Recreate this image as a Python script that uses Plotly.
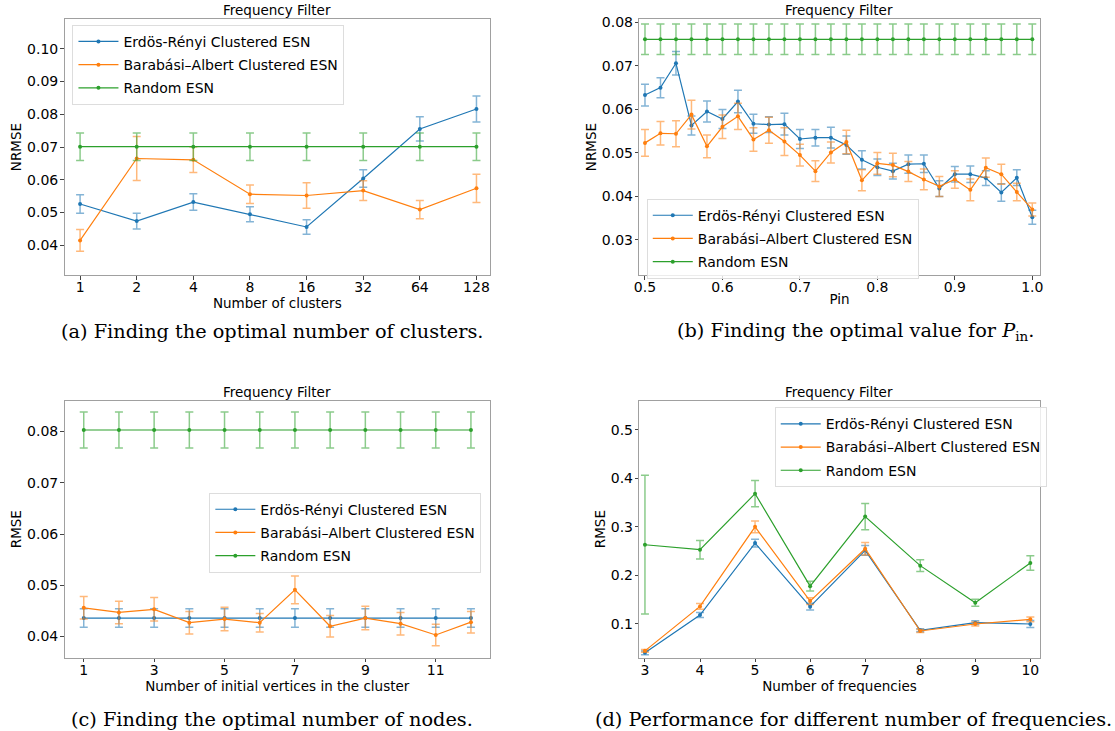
import plotly.graph_objects as go

# ---------------- data ----------------
names = ["Erdös-Rényi Clustered ESN", "Barabási–Albert Clustered ESN", "Random ESN"]
colors = ["#1f77b4", "#ff7f0e", "#2ca02c"]
err_colors = ["rgba(31,119,180,0.55)", "rgba(255,127,14,0.55)", "rgba(44,160,44,0.55)"]

# (a) number of clusters
a_labels = ["1", "2", "4", "8", "16", "32", "64", "128"]
a_er = [0.0526, 0.0474, 0.0532, 0.0495, 0.0456, 0.0604, 0.0755, 0.0816]
a_er_err = [0.0028, 0.0024, 0.0025, 0.0023, 0.0022, 0.0027, 0.0037, 0.0040]
a_ba = [0.0415, 0.0665, 0.0661, 0.0556, 0.0552, 0.0567, 0.0509, 0.0574]
a_ba_err = [0.0033, 0.0067, 0.0039, 0.0028, 0.0039, 0.0030, 0.0028, 0.0043]
a_rnd = [0.0701] * 8
a_rnd_err = [0.0042] * 8

# (b) Pin
b_x = [0.50, 0.52, 0.54, 0.56, 0.58, 0.60, 0.62, 0.64, 0.66, 0.68, 0.70, 0.72, 0.74,
       0.76, 0.78, 0.80, 0.82, 0.84, 0.86, 0.88, 0.90, 0.92, 0.94, 0.96, 0.98, 1.00]
b_er = [0.0633, 0.0650, 0.0706, 0.0563, 0.0595, 0.0578, 0.0618, 0.0567, 0.0565, 0.0566,
        0.0532, 0.0535, 0.0535, 0.0518, 0.0484, 0.0467, 0.0458, 0.0474, 0.0475, 0.0418,
        0.0451, 0.0451, 0.0442, 0.0409, 0.0443, 0.0352]
b_er_err = [0.0025, 0.0023, 0.0027, 0.0022, 0.0024, 0.0022, 0.0026, 0.0022, 0.0018, 0.0025,
            0.0022, 0.0019, 0.0024, 0.0021, 0.0021, 0.0019, 0.0018, 0.0021, 0.0020, 0.0018,
            0.0018, 0.0019, 0.0017, 0.0020, 0.0018, 0.0016]
b_ba = [0.0523, 0.0545, 0.0544, 0.0588, 0.0515, 0.0560, 0.0584, 0.0531, 0.0552, 0.0526,
        0.0495, 0.0458, 0.0501, 0.0525, 0.0437, 0.0476, 0.0472, 0.0457, 0.0439, 0.0423,
        0.0439, 0.0415, 0.0466, 0.0451, 0.0410, 0.0370]
b_ba_err = [0.0031, 0.0027, 0.0030, 0.0033, 0.0026, 0.0027, 0.0030, 0.0027, 0.0030, 0.0032,
            0.0025, 0.0024, 0.0024, 0.0027, 0.0024, 0.0025, 0.0027, 0.0023, 0.0024, 0.0023,
            0.0020, 0.0025, 0.0022, 0.0023, 0.0020, 0.0015]
b_rnd = [0.0761] * 26
b_rnd_err = [0.0035] * 26

# (c) number of initial vertices
c_x = [1, 2, 3, 4, 5, 6, 7, 8, 9, 10, 11, 12]
c_er = [0.0436] * 12
c_er_err = [0.0018] * 12
c_ba = [0.0456, 0.0447, 0.0453, 0.0427, 0.0434, 0.0427, 0.0491, 0.0420, 0.0436, 0.0425, 0.0403, 0.0428]
c_ba_err = [0.0022, 0.0022, 0.0023, 0.0022, 0.0023, 0.0018, 0.0027, 0.0021, 0.0023, 0.0022, 0.0021, 0.0021]
c_rnd = [0.0803] * 12
c_rnd_err = [0.0035] * 12

# (d) number of frequencies
d_x = [3, 4, 5, 6, 7, 8, 9, 10]
d_er = [0.0405, 0.1185, 0.2668, 0.1356, 0.2518, 0.0870, 0.1027, 0.1000]
d_er_err = [0.004, 0.005, 0.008, 0.007, 0.010, 0.003, 0.004, 0.007]
d_ba = [0.0446, 0.1362, 0.3003, 0.1472, 0.2552, 0.0856, 0.1000, 0.1096]
d_ba_err = [0.003, 0.006, 0.012, 0.007, 0.013, 0.003, 0.004, 0.005]
d_rnd = [0.2634, 0.2532, 0.3687, 0.1780, 0.3215, 0.2203, 0.1438, 0.2258]
d_rnd_err = [0.143, 0.019, 0.027, 0.010, 0.027, 0.012, 0.007, 0.015]

captions = ["(a) Finding the optimal number of clusters.",
            "(b) Finding the optimal value for <i>P</i><sub>in</sub>.",
            "(c) Finding the optimal number of nodes.",
            "(d) Performance for different number of frequencies."]

# ---------------- layout helpers ----------------
W, H = 1115, 731
def px_x(v):
    return v / W
def px_y(v):
    return 1 - v / H

panels = [
    dict(x=(60.0, 489.0), y=(14.0, 272.0)),
    dict(x=(639.5, 1043.0), y=(14.0, 272.0)),
    dict(x=(60.0, 489.0), y=(398.5, 657.0)),
    dict(x=(639.5, 1043.0), y=(398.5, 657.0)),
]

fig = go.Figure()

def add_series(idx, x, ys, errs, legend_name):
    axn = "" if idx == 0 else str(idx + 1)
    for k in range(3):
        fig.add_trace(go.Scatter(
            x=x, y=ys[k], name=names[k], mode="lines+markers",
            line=dict(color=colors[k], width=1.2),
            marker=dict(color=colors[k], size=4),
            error_y=dict(type="data", array=errs[k], color=err_colors[k], thickness=1.5, width=4),
            xaxis="x" + axn, yaxis="y" + axn, legend=legend_name,
            legendgroup=legend_name + str(k),
        ))

a_idx = list(range(len(a_labels)))
add_series(0, a_idx, [a_er, a_ba, a_rnd], [a_er_err, a_ba_err, a_rnd_err], "legend")
add_series(1, b_x, [b_er, b_ba, b_rnd], [b_er_err, b_ba_err, b_rnd_err], "legend2")
add_series(2, c_x, [c_er, c_ba, c_rnd], [c_er_err, c_ba_err, c_rnd_err], "legend3")
add_series(3, d_x, [d_er, d_ba, d_rnd], [d_er_err, d_ba_err, d_rnd_err], "legend4")

font_family = "DejaVu Sans"
tick_font = dict(family=font_family, size=14, color="#000")
title_font = dict(family=font_family, size=13.5, color="#000")

axis_common = dict(showgrid=False, zeroline=False, showline=True, linecolor="#a0a0a0",
                   linewidth=1, mirror=True, ticks="outside", ticklen=3.5, tickcolor="#444",
                   tickfont=tick_font)

xranges = [[-0.275, 7.24], [0.4927, 1.0094], [0.454, 12.543], [2.898, 10.168]]
yranges = [[0.0309, 0.1091], [0.0219, 0.0808], [0.0359, 0.0860], [0.0309, 0.5602]]
xtitles = ["Number of clusters", "Pin", "Number of initial vertices in the cluster", "Number of frequencies"]
ytitles = ["NRMSE", "NRMSE", "RMSE", "RMSE"]

layout = dict(width=W, height=H, margin=dict(l=0, r=0, t=0, b=0),
              paper_bgcolor="white", plot_bgcolor="white", showlegend=True)

for i, p in enumerate(panels):
    axn = "" if i == 0 else str(i + 1)
    xa = dict(axis_common, domain=[px_x(p["x"][0]), px_x(p["x"][1])], range=xranges[i],
              anchor="y" + axn, ticklabelstandoff=-4,
              title=dict(text=xtitles[i], font=title_font, standoff=0))
    ya = dict(axis_common, domain=[px_y(p["y"][1]), px_y(p["y"][0])], range=yranges[i],
              anchor="x" + axn, ticklabelstandoff=-1,
              title=dict(text=ytitles[i], font=title_font, standoff=2))
    if i == 0:
        xa.update(tickmode="array", tickvals=a_idx, ticktext=a_labels)
        ya.update(tickvals=[0.04, 0.05, 0.06, 0.07, 0.08, 0.09, 0.10], tickformat=".2f")
    elif i == 1:
        xa.update(tickvals=[0.5, 0.6, 0.7, 0.8, 0.9, 1.0], tickformat=".1f")
        ya.update(tickvals=[0.03, 0.04, 0.05, 0.06, 0.07, 0.08], tickformat=".2f")
    elif i == 2:
        xa.update(tickvals=[1, 3, 5, 7, 9, 11])
        ya.update(tickvals=[0.04, 0.05, 0.06, 0.07, 0.08], tickformat=".2f")
    else:
        xa.update(tickvals=d_x)
        ya.update(tickvals=[0.1, 0.2, 0.3, 0.4, 0.5], tickformat=".1f")
    layout["xaxis" + axn] = xa
    layout["yaxis" + axn] = ya

legend_pos = [(68, 20), (647, 195), (206, 491), (776, 405)]
for i, (lx, ly) in enumerate(legend_pos):
    key = "legend" if i == 0 else "legend" + str(i + 1)
    layout[key] = dict(x=px_x(lx), y=px_y(ly), xanchor="left", yanchor="top",
                       xref="paper", yref="paper",
                       bgcolor="rgba(255,255,255,0.8)", bordercolor="#dddddd", borderwidth=1,
                       font=dict(family=font_family, size=14, color="#000"),
                       tracegroupgap=2, itemwidth=40)

annotations = []
for i, p in enumerate(panels):
    cx = (p["x"][0] + p["x"][1]) / 2
    annotations.append(dict(text="Frequency Filter", x=px_x(cx), y=px_y(p["y"][0]),
                            xref="paper", yref="paper", xanchor="center", yanchor="bottom",
                            showarrow=False, font=title_font, yshift=-1))
cap_pos = [(269, 329), (857, 329), (269, 719), (855, 719)]
for i, (cx, cy) in enumerate(cap_pos):
    annotations.append(dict(text=captions[i], x=px_x(cx), y=px_y(cy), xref="paper", yref="paper",
                            xanchor="center", yanchor="middle", showarrow=False,
                            font=dict(family="DejaVu Serif", size=19.3, color="#000")))
layout["annotations"] = annotations

fig.update_layout(**layout)
fig.write_html("out.html", config={"displayModeBar": False},
               post_script="document.body.style.margin='0px';document.body.style.overflow='hidden';")
